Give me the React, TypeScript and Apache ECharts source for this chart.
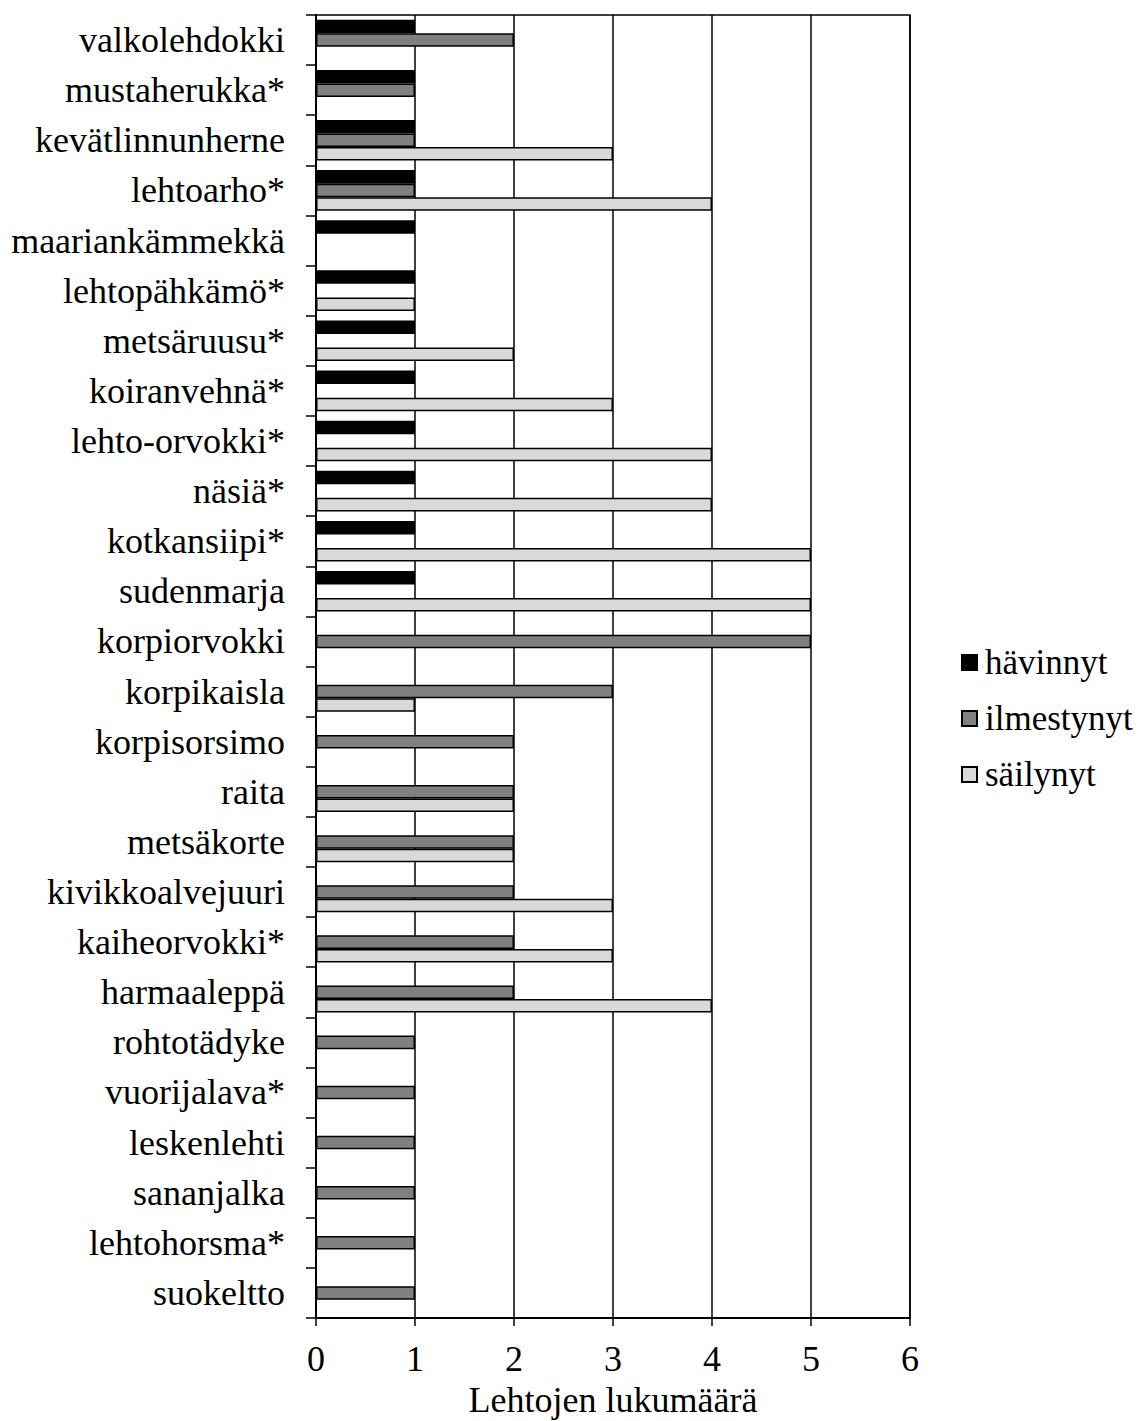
import React, { useEffect, useRef } from "react";
import * as echarts from "echarts";

const categories = [
  "valkolehdokki", "mustaherukka*", "kevätlinnunherne", "lehtoarho*", "maariankämmekkä",
  "lehtopähkämö*", "metsäruusu*", "koiranvehnä*", "lehto-orvokki*", "näsiä*",
  "kotkansiipi*", "sudenmarja", "korpiorvokki", "korpikaisla", "korpisorsimo",
  "raita", "metsäkorte", "kivikkoalvejuuri", "kaiheorvokki*", "harmaaleppä",
  "rohtotädyke", "vuorijalava*", "leskenlehti", "sananjalka", "lehtohorsma*", "suokeltto",
];

const havinnyt = [1, 1, 1, 1, 1, 1, 1, 1, 1, 1, 1, 1, 0, 0, 0, 0, 0, 0, 0, 0, 0, 0, 0, 0, 0, 0];
const ilmestynyt = [2, 1, 1, 1, 0, 0, 0, 0, 0, 0, 0, 0, 5, 3, 2, 2, 2, 2, 2, 2, 1, 1, 1, 1, 1, 1];
const sailynyt = [0, 0, 3, 4, 0, 1, 2, 3, 4, 4, 5, 5, 0, 1, 0, 2, 2, 3, 3, 4, 0, 0, 0, 0, 0, 0];

const xTicks = [0, 1, 2, 3, 4, 5, 6];
const seriesNames = ["hävinnyt", "ilmestynyt", "säilynyt"];
const seriesColors = ["#000000", "#808080", "#d9d9d9"];

const FONT = "Liberation Serif";

export default function App() {
  const ref = useRef<HTMLDivElement>(null);
  useEffect(() => {
    if (!ref.current) return;
    const chart = echarts.init(ref.current, null, { renderer: "svg" });
    const values = [havinnyt, ilmestynyt, sailynyt];
    chart.setOption({
      animation: false,
      backgroundColor: "#ffffff",
      textStyle: { fontFamily: FONT, color: "#000" },
      grid: {
        left: 316,
        top: 15,
        right: 233,
        bottom: 103,
        outerBoundsMode: "none",
        containLabel: false,
        show: true,
        borderColor: "#000",
        borderWidth: 1.5,
      },
      legend: {
        orient: "vertical",
        left: 956,
        top: 640,
        itemWidth: 15,
        itemHeight: 15,
        itemGap: 21,
        icon: "rect",
        textStyle: { fontFamily: FONT, fontSize: 35, color: "#000", padding: [0, 0, 0, 3] },
        data: seriesNames,
      },
      xAxis: {
        type: "value",
        min: xTicks[0],
        max: xTicks[xTicks.length - 1],
        interval: 1,
        axisLine: { show: true, lineStyle: { color: "#000", width: 2 } },
        axisTick: { show: true, length: 8, lineStyle: { color: "#000", width: 1.5 } },
        axisLabel: { fontFamily: FONT, fontSize: 36, color: "#000", margin: 23 },
        splitLine: { show: true, lineStyle: { color: "#000", width: 1.5 } },
        name: "Lehtojen lukumäärä",
        nameLocation: "middle",
        nameGap: 64,
        nameTextStyle: { fontFamily: FONT, fontSize: 36, color: "#000" },
      },
      yAxis: {
        type: "category",
        data: categories,
        inverse: true,
        axisLine: { show: true, lineStyle: { color: "#000", width: 2 } },
        axisTick: { show: true, length: 10, lineStyle: { color: "#000", width: 1.5 } },
        axisLabel: { fontFamily: FONT, fontSize: 36, color: "#000", margin: 31 },
        splitLine: { show: false },
      },
      series: seriesNames.map((name, i) => ({
        name,
        type: "bar",
        data: values[i],
        barGap: "0%",
        barCategoryGap: "19%",
        itemStyle: { color: seriesColors[i], borderColor: "#000", borderWidth: 1.5 },
      })),
    });
    return () => chart.dispose();
  }, []);
  return (
    <div
      ref={ref}
      style={{ position: "absolute", left: 0, top: 0, width: 1143, height: 1421 }}
    />
  );
}
